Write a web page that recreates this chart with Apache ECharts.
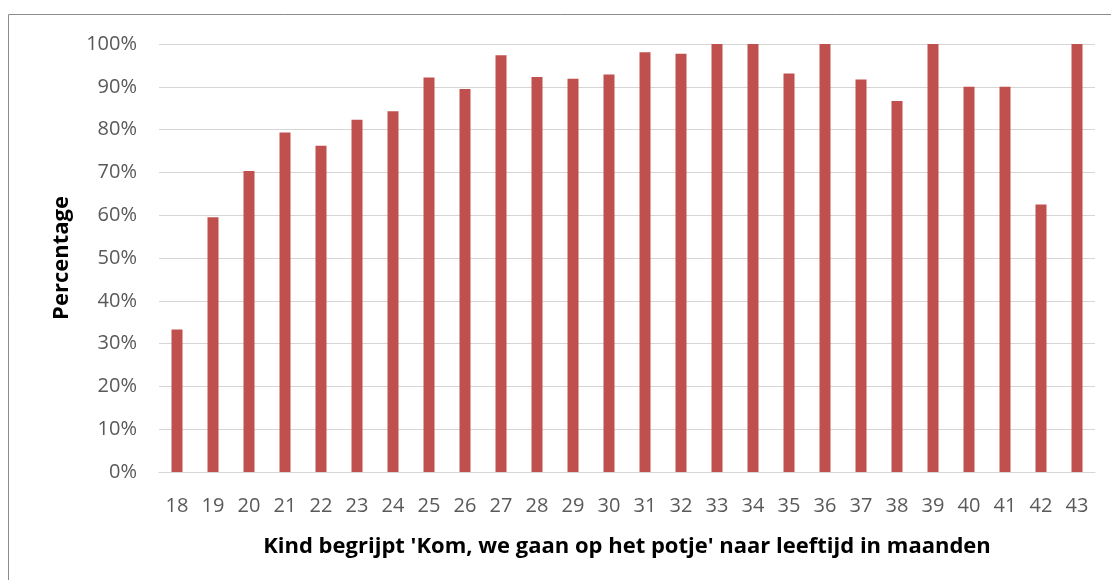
<!DOCTYPE html>
<html lang="nl">
<head>
    <meta charset="UTF-8">
    <title>Kom, we gaan op het potje</title>
    <style>
        body {
            margin: 0;
            background: #fff;
        }

        #chart {
            width: 1111px;
            height: 580px;
        }
    </style>
</head>
<body>
    <div id="chart"></div>
    <script src="https://cdn.jsdelivr.net/npm/echarts@6/dist/echarts.min.js"></script>
    <script>
        // leeftijd in maanden
        var months = ['18', '19', '20', '21', '22', '23', '24', '25', '26', '27', '28', '29', '30',
            '31', '32', '33', '34', '35', '36', '37', '38', '39', '40', '41', '42', '43'];
        // percentage dat het begrijpt
        var percent = [33.3, 59.5, 70.3, 79.3, 76.2, 82.3, 84.3, 92.2, 89.5, 97.4, 92.3, 91.9, 92.9,
            98.1, 97.7, 100, 100, 93.1, 100, 91.7, 86.7, 100, 90, 90, 62.5, 100];
        var yTicks = [0, 10, 20, 30, 40, 50, 60, 70, 80, 90, 100];

        var font = '"Open Sans", sans-serif';
        var chart = echarts.init(document.getElementById('chart'));

        chart.setOption({
            animation: false,
            grid: { left: 159, right: 16, top: 44, bottom: 108 },
            graphic: [{
                type: 'rect',
                shape: { x: 8.5, y: 14.5, width: 1300, height: 800 },
                style: { fill: 'none', stroke: '#8c8c8c', lineWidth: 1 }
            }],
            xAxis: {
                type: 'category',
                data: months,
                name: "Kind begrijpt 'Kom, we gaan op het potje' naar leeftijd in maanden",
                nameLocation: 'middle',
                nameGap: 64,
                nameTextStyle: { fontFamily: font, fontWeight: 'bold', fontSize: 22, color: '#000' },
                axisLine: { lineStyle: { color: '#d6d6d6', width: 1 } },
                axisTick: { show: false },
                axisLabel: { fontFamily: font, fontSize: 20, color: '#595959', margin: 24 }
            },
            yAxis: {
                type: 'value',
                min: 0,
                max: 100,
                interval: 10,
                name: 'Percentage',
                nameLocation: 'middle',
                nameGap: 86,
                nameTextStyle: { fontFamily: font, fontWeight: 'bold', fontSize: 22, color: '#000' },
                axisLine: { show: false },
                axisTick: { show: false },
                axisLabel: {
                    fontFamily: font, fontSize: 20, color: '#595959', margin: 22,
                    formatter: function (v) { return yTicks.indexOf(v) >= 0 ? v + '%' : ''; }
                },
                splitLine: { lineStyle: { color: '#d6d6d6', width: 1 } }
            },
            series: [{
                type: 'bar',
                data: percent,
                barWidth: 11,
                itemStyle: { color: '#c0504d' }
            }]
        });
    </script>
</body>
</html>
